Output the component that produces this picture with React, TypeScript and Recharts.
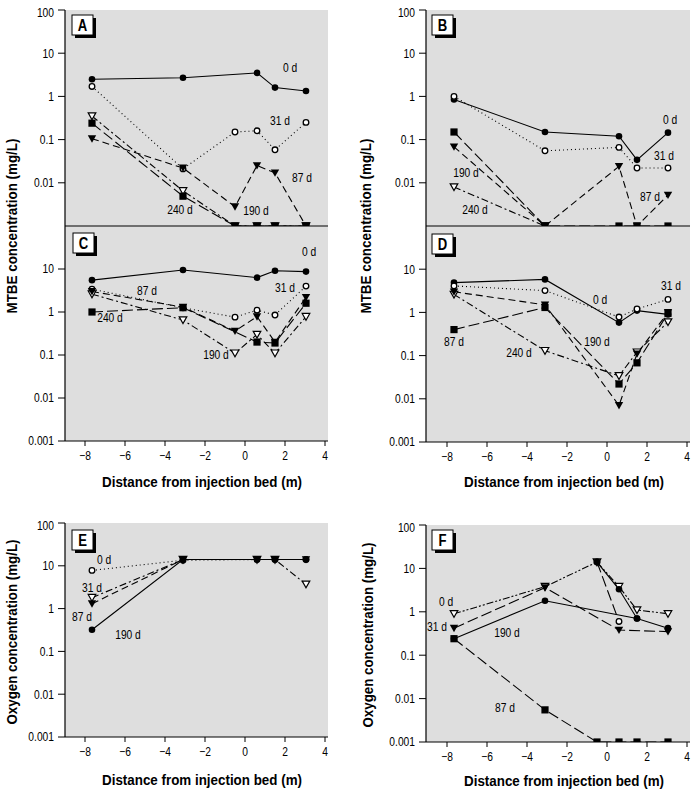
import React from 'react';
import { LineChart, Line, XAxis, YAxis, CartesianGrid } from 'recharts';

// Arial-metric face, squeezed horizontally to a narrow cut
const FONT = "'Liberation Sans', Arial, sans-serif";
const SQUEEZE = 0.82;

// Sampling positions along the transect (m from the injection bed)
const distance = [-7.65, -3.1, -0.5, 0.6, 1.5, 3.05];

const xTicks = [-8, -6, -4, -2, 0, 2, 4];
const yTicksFull = [0.001, 0.01, 0.1, 1, 10, 100];
const yTicksLower = [0.001, 0.01, 0.1, 1, 10];

// Panel A – MTBE (mg/L)
const a0 = [2.5, 2.7, null, 3.5, 1.6, 1.33];
const a31 = [1.7, 0.021, 0.15, 0.16, 0.058, 0.25];
const a87 = [0.105, 0.022, 0.0028, 0.025, 0.017, 0.001];
const a190 = [0.35, 0.0065, 0.001, 0.001, 0.001, 0.001];
const a240 = [0.24, 0.0049, 0.001, 0.001, 0.001, 0.001];

// Panel B – MTBE (mg/L)
const b0 = [0.85, 0.15, null, 0.12, 0.034, 0.145];
const b31 = [1.0, 0.055, null, 0.066, 0.022, 0.022];
const b87 = [0.068, 0.001, null, 0.024, 0.001, 0.0052];
const b190 = [0.15, 0.001, null, 0.001, 0.001, 0.001];
const b240 = [0.008, 0.001, null, null, null, null];

// Panel C – MTBE (mg/L)
const c0 = [5.5, 9.5, null, 6.3, 9.1, 8.7];
const c31 = [3.4, 1.25, 0.76, 1.1, 0.85, 4.0];
const c87 = [3.0, 1.3, 0.36, 0.78, 0.2, 2.2];
const c190 = [2.6, 0.65, 0.11, 0.3, 0.11, 0.78];
const c240 = [1.0, 1.26, null, 0.2, 0.19, 1.6];

// Panel D – MTBE (mg/L)
const d0 = [4.9, 5.8, null, 0.58, 1.1, 0.9];
const d31 = [4.1, 3.2, null, 0.78, 1.2, 2.0];
const d87 = [0.4, 1.3, null, 0.022, 0.068, 0.95];
const d190 = [3.0, 1.5, null, 0.007, 0.11, 1.0];
const d240 = [2.6, 0.13, null, 0.034, 0.12, 0.6];

// Panel E – oxygen (mg/L)
const e0 = [7.8, 13.5, null, 14, 14, 14];
const e31 = [1.8, 14, null, 14, 14, 3.7];
const e87 = [1.3, 14, null, 14, 14, 14];
const e190 = [0.32, 14, null, 14, 14, 14];

// Panel F – oxygen (mg/L)
const f0 = [0.9, 3.8, 14, 3.8, 1.1, 0.9];
const f31 = [0.42, 3.6, null, 0.38, null, 0.35];
const f190 = [0.24, 1.8, null, null, 0.7, 0.42];
const f190b = [null, null, 14, 3.3, 0.7, null];
const f31b = [null, null, 14, 0.6, null, null];
const f87 = [0.24, 0.0055, 0.001, 0.001, 0.001, 0.001];

type Marker = 'disc' | 'ring' | 'triFill' | 'triOpen' | 'square';

const DASH: Record<string, string | undefined> = {
  solid: undefined,
  dotted: '1 3',
  dash: '7 4',
  longDash: '11 4',
  dashDot: '7 3 2 3',
  dashDotDot: '7 2 2 2 2 2',
};

interface Series {
  values: (number | null)[];
  marker: Marker;
  dash: keyof typeof DASH;
}

const makeDot = (m: Marker) => (props: any) => {
  const { cx, cy, index, value } = props;
  const k = `d${index}`;
  if (cx == null || cy == null || value == null || Number.isNaN(cy)) return <g key={k} />;
  switch (m) {
    case 'disc':
      return <circle key={k} cx={cx} cy={cy} r={3.3} fill="#000" />;
    case 'ring':
      return <circle key={k} cx={cx} cy={cy} r={2.8} fill="#fff" stroke="#000" strokeWidth={1.3} />;
    case 'triFill':
      return <path key={k} d={`M${cx - 4.2},${cy - 3.4}L${cx + 4.2},${cy - 3.4}L${cx},${cy + 4}Z`} fill="#000" />;
    case 'triOpen':
      return (
        <path key={k} d={`M${cx - 3.8},${cy - 3.2}L${cx + 3.8},${cy - 3.2}L${cx},${cy + 3.6}Z`} fill="#fff" stroke="#000" strokeWidth={1.2} />
      );
    case 'square':
    default:
      return <rect key={k} x={cx - 3.6} y={cy - 3.6} width={7.2} height={7.2} fill="#000" />;
  }
};

// Narrow text drawn at (x, y), squeezed about its anchor point
function NText({ x, y, anchor = 'middle', size = 12.5, bold = false, dy = '0.35em', children }: any) {
  return (
    <g transform={`translate(${x},${y}) scale(${SQUEEZE},1)`}>
      <text x={0} y={0} dy={dy} textAnchor={anchor} fontFamily={FONT} fontSize={size} fontWeight={bold ? 'bold' : 'normal'} fill="#000">
        {children}
      </text>
    </g>
  );
}

const XTick = (props: any) => {
  const { x, y, payload } = props;
  const v = payload.value as number;
  return <NText x={x} y={y} dy="0.72em">{v < 0 ? `\u2212${Math.abs(v)}` : `${v}`}</NText>;
};

const YTick = (props: any) => {
  const { x, y, payload } = props;
  return <NText x={x} y={y} anchor="end">{`${payload.value}`}</NText>;
};

interface PanelProps {
  plotLeft: number;
  plotTop: number;
  plotW: number;
  plotH: number;
  series: Series[];
  yTicks: number[];
  showX: boolean;
  xDomain: [number, number];
}

const YW = 50;
const MT = 6;

function Panel({ plotLeft, plotTop, plotW, plotH, series, yTicks, showX, xDomain }: PanelProps) {
  const XH = showX ? 30 : 2;
  const width = YW + plotW + 4;
  const height = MT + plotH + XH;
  const data = distance.map((x, i) => {
    const row: Record<string, number | null> = { x };
    series.forEach((s, j) => {
      row[`s${j}`] = s.values[i];
    });
    return row;
  });
  return (
    <div style={{ position: 'absolute', left: plotLeft - YW, top: plotTop - MT }}>
      <LineChart width={width} height={height} data={data} margin={{ top: MT, right: 4, bottom: 0, left: 0 }}>
        <CartesianGrid fill="#dedede" stroke="none" />
        <XAxis
          type="number"
          dataKey="x"
          domain={xDomain}
          ticks={xTicks}
          allowDataOverflow
          height={XH}
          axisLine={{ stroke: '#000', strokeWidth: 1.2 }}
          tickLine={showX ? { stroke: '#000' } : false}
          tick={showX ? XTick : false}
          tickSize={5}
          tickMargin={5}
        />
        <YAxis
          type="number"
          scale="log"
          domain={[0.001, 100]}
          ticks={yTicks}
          allowDataOverflow
          width={YW}
          axisLine={{ stroke: '#000', strokeWidth: 1.2 }}
          tickLine={{ stroke: '#000' }}
          tickSize={7}
          tickMargin={4}
          tick={YTick}
        />
        {series.map((s, j) => (
          <Line
            key={j}
            dataKey={`s${j}`}
            stroke="#000"
            strokeWidth={1.1}
            strokeDasharray={DASH[s.dash]}
            dot={makeDot(s.marker)}
            activeDot={false}
            connectNulls
            isAnimationActive={false}
            type="linear"
          />
        ))}
      </LineChart>
    </div>
  );
}

const seriesA: Series[] = [
  { values: a0, marker: 'disc', dash: 'solid' },
  { values: a31, marker: 'ring', dash: 'dotted' },
  { values: a190, marker: 'triOpen', dash: 'dashDot' },
  { values: a87, marker: 'triFill', dash: 'dash' },
  { values: a240, marker: 'square', dash: 'longDash' },
];
const seriesB: Series[] = [
  { values: b0, marker: 'disc', dash: 'solid' },
  { values: b31, marker: 'ring', dash: 'dotted' },
  { values: b240, marker: 'triOpen', dash: 'dashDot' },
  { values: b87, marker: 'triFill', dash: 'dash' },
  { values: b190, marker: 'square', dash: 'longDash' },
];
const seriesC: Series[] = [
  { values: c0, marker: 'disc', dash: 'solid' },
  { values: c31, marker: 'ring', dash: 'dotted' },
  { values: c190, marker: 'triOpen', dash: 'dashDot' },
  { values: c87, marker: 'triFill', dash: 'dash' },
  { values: c240, marker: 'square', dash: 'longDash' },
];
const seriesD: Series[] = [
  { values: d0, marker: 'disc', dash: 'solid' },
  { values: d31, marker: 'ring', dash: 'dotted' },
  { values: d240, marker: 'triOpen', dash: 'dashDot' },
  { values: d190, marker: 'triFill', dash: 'dash' },
  { values: d87, marker: 'square', dash: 'longDash' },
];
const seriesE: Series[] = [
  { values: e0, marker: 'ring', dash: 'dotted' },
  { values: e31, marker: 'triOpen', dash: 'dashDot' },
  { values: e87, marker: 'triFill', dash: 'dash' },
  { values: e190, marker: 'disc', dash: 'solid' },
];
const seriesF: Series[] = [
  { values: f0, marker: 'triOpen', dash: 'dashDotDot' },
  { values: f31b, marker: 'ring', dash: 'longDash' },
  { values: f31, marker: 'triFill', dash: 'longDash' },
  { values: f190b, marker: 'disc', dash: 'solid' },
  { values: f190, marker: 'disc', dash: 'solid' },
  { values: f87, marker: 'square', dash: 'longDash' },
];

const LEFT_X: [number, number] = [-9, 4.15];
const RIGHT_X: [number, number] = [-9.05, 4.15];

// Day annotations: [text, x, y]
const dayLabels: [string, number, number][] = [
  ['0 d', 290, 68], ['31 d', 280, 121], ['87 d', 302, 178], ['240 d', 180, 210], ['190 d', 256, 211],
  ['0 d', 309, 252], ['87 d', 147, 291], ['31 d', 285, 288], ['240 d', 110, 318], ['190 d', 216, 355],
  ['0 d', 670, 120], ['31 d', 664, 156], ['87 d', 650, 197], ['190 d', 466, 173], ['240 d', 475, 210],
  ['31 d', 671, 286], ['0 d', 600, 300], ['87 d', 454, 342], ['240 d', 519, 353], ['190 d', 597, 342],
  ['0 d', 104, 560], ['31 d', 92, 588], ['87 d', 82, 617], ['190 d', 128, 635],
  ['0 d', 446, 602], ['31 d', 437, 627], ['190 d', 507, 633], ['87 d', 505, 708],
];

const panelLetters: [string, number, number][] = [
  ['A', 72, 15], ['C', 73, 233], ['B', 432, 15], ['D', 432, 234], ['E', 72, 530], ['F', 432, 530],
];

// Axis titles: [text, x, y, length]
const yTitles: [string, number, number, number][] = [
  ['MTBE concentration (mg/L)', 12, 226, 175],
  ['MTBE concentration (mg/L)', 366, 226, 175],
  ['Oxygen concentration (mg/L)', 12, 632, 185],
  ['Oxygen concentration (mg/L)', 368, 635, 185],
];

const xTitles: [string, number, number][] = [
  ['Distance from injection bed (m)', 202, 482],
  ['Distance from injection bed (m)', 564, 482],
  ['Distance from injection bed (m)', 202, 780],
  ['Distance from injection bed (m)', 564, 781],
];

export default function App() {
  return (
    <div style={{ position: 'absolute', left: 0, top: 0, width: 693, height: 791, background: '#fff', overflow: 'hidden' }}>
      <Panel plotLeft={65} plotTop={226} plotW={263} plotH={215} series={seriesC} yTicks={yTicksLower} showX xDomain={LEFT_X} />
      <Panel plotLeft={65} plotTop={10} plotW={263} plotH={216} series={seriesA} yTicks={yTicksFull} showX={false} xDomain={LEFT_X} />
      <Panel plotLeft={426} plotTop={226} plotW={264} plotH={216} series={seriesD} yTicks={yTicksLower} showX xDomain={RIGHT_X} />
      <Panel plotLeft={426} plotTop={10} plotW={264} plotH={216} series={seriesB} yTicks={yTicksFull} showX={false} xDomain={RIGHT_X} />
      <Panel plotLeft={65} plotTop={523} plotW={263} plotH={214} series={seriesE} yTicks={yTicksFull} showX xDomain={LEFT_X} />
      <Panel plotLeft={426} plotTop={525} plotW={264} plotH={217} series={seriesF} yTicks={yTicksFull} showX xDomain={RIGHT_X} />
      <svg width={693} height={791} style={{ position: 'absolute', left: 0, top: 0, pointerEvents: 'none' }}>
        {panelLetters.map(([t, x, y]) => (
          <g key={t}>
            <rect x={x + 3} y={y + 3} width={21} height={20} fill="#000" />
            <rect x={x} y={y} width={21} height={20} fill="#fff" stroke="#000" strokeWidth={1} />
            <NText x={x + 10.5} y={y + 10.5} size={16} bold>
              {t}
            </NText>
          </g>
        ))}
        {dayLabels.map(([t, x, y], i) => (
          <NText key={i} x={x} y={y}>
            {t}
          </NText>
        ))}
        {yTitles.map(([t, x, y, len], i) => (
          <text
            key={i}
            x={x}
            y={y}
            dy="0.35em"
            transform={`rotate(-90 ${x} ${y})`}
            textAnchor="middle"
            fontFamily={FONT}
            fontWeight="bold"
            fontSize={15}
            textLength={len}
            lengthAdjust="spacingAndGlyphs"
          >
            {t}
          </text>
        ))}
        {xTitles.map(([t, x, y], i) => (
          <text
            key={i}
            x={x}
            y={y}
            dy="0.35em"
            textAnchor="middle"
            fontFamily={FONT}
            fontWeight="bold"
            fontSize={15}
            textLength={200}
            lengthAdjust="spacingAndGlyphs"
          >
            {t}
          </text>
        ))}
      </svg>
    </div>
  );
}
